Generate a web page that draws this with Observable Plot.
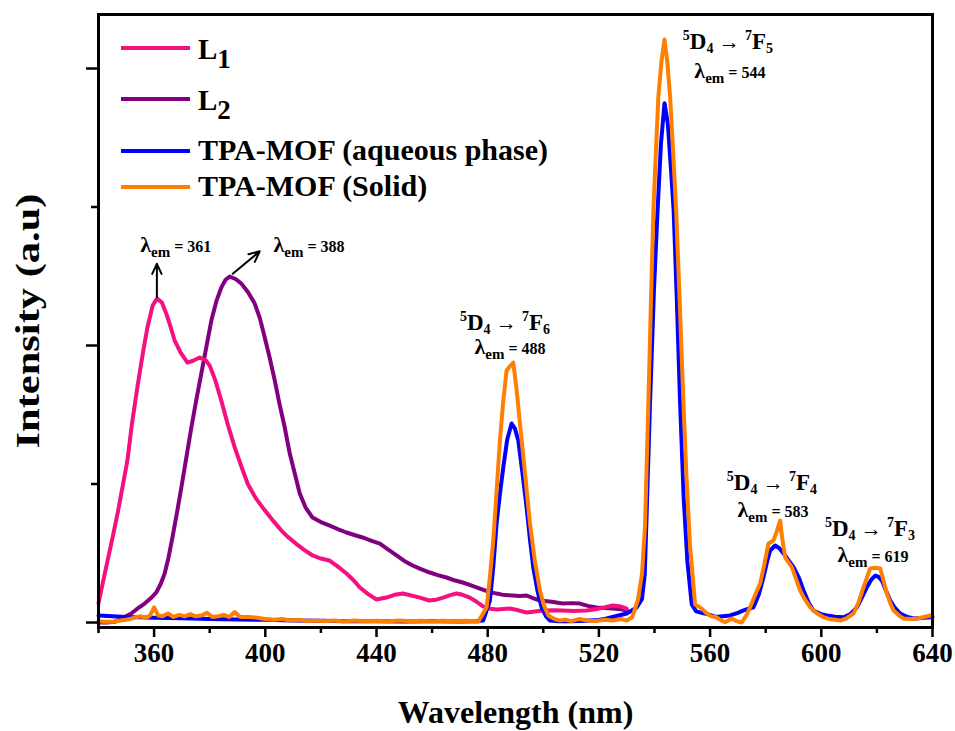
<!DOCTYPE html>
<html><head><meta charset="utf-8">
<script src="https://cdn.jsdelivr.net/npm/d3@7"></script>
<script src="https://cdn.jsdelivr.net/npm/@observablehq/plot@0.6"></script>
<style>body{margin:0;background:#fff}#chart{width:955px;height:731px}</style>
</head><body><div id="chart"></div>
<script>
// ---- data (wavelength nm, intensity a.u.) ----
const seriesNames = ["L1", "L2", "TPA-MOF (aqueous phase)", "TPA-MOF (Solid)"];
const seriesColors = ["#f5107f", "#800080", "#0000ff", "#ff8000"];

const L1 = [[340,140],[342,330],[344.6,570],[347,800],[350.4,1170],[352,1430],[354,1700],[356,1950],[357.6,2130],[359.5,2290],[361.1,2340],[362.8,2310],[364.4,2230],[366,2130],[367.4,2036],[369.5,1950],[372,1877],[374,1890],[376.4,1913],[378.5,1895],[380,1855],[382,1750],[384.2,1600],[386.5,1430],[389,1264],[391.5,1120],[393.7,1000],[396.5,900],[399.8,810],[403,730],[405.8,664],[408,620],[411,570],[414,525],[417,484],[420,462],[423,448],[426,405],[429.2,354],[432,300],[434,253],[437,205],[440,166],[443.6,180],[446.5,200],[449.5,209],[452.5,195],[455.6,180],[459,159],[461.5,165],[464,180],[466.5,198],[468.8,209],[471,200],[473.6,180],[476,150],[478.3,116],[481,100],[483.2,94],[485.5,98],[488,101],[491,88],[494,72],[497,80],[500,87],[504,88],[507,87],[511,84],[515.6,87],[520,100],[525,123],[528,115],[530,101]];

const L2 = [[340,0],[343,0],[345.8,5],[348.5,30],[351.8,65],[354,100],[356.6,137],[358.8,175],[360.8,217],[362.4,280],[363.8,354],[365.2,470],[366.6,614],[368.2,790],[369.8,975],[371.6,1190],[373.4,1408],[375.2,1610],[377,1798],[378.8,1990],[380.6,2180],[382.4,2320],[384.2,2420],[385.7,2475],[387.2,2498],[389.3,2480],[391.4,2447],[393.8,2385],[396.2,2303],[398,2200],[399.8,2058],[401.6,1910],[403.4,1747],[405.2,1570],[407,1408],[408.8,1220],[410.6,1076],[412.4,931],[414.5,830],[417,758],[420,725],[423.2,700],[426,675],[429.2,650],[432,632],[435,614],[438,592],[441.2,570],[444,530],[447.2,484],[450,445],[453,412],[456,385],[459.2,361],[462,342],[465.2,325],[468,305],[471,289],[474,268],[477.2,245],[480,225],[483.2,209],[486,198],[489,195],[491.5,192],[494,195],[496.5,175],[498.8,159],[503,150],[507,137],[510,140],[513.2,137],[516,120],[519.2,108],[522,105],[525,101],[528,95],[530,87]];

const aqueous = [[340,50],[345,45],[350,40],[355,38],[360,35],[365,33],[370,30],[380,25],[390,22],[400,20],[410,15],[420,12],[430,10],[440,10],[450,8],[460,10],[470,8],[476,10],[478.4,15],[480.8,159],[482,400],[483.2,715],[484.4,930],[485.6,1119],[487,1320],[488.6,1437],[489.8,1400],[491,1314],[492.5,1080],[494,830],[495.2,600],[496.4,397],[497.9,230],[499.4,108],[501,45],[502.4,14],[505,10],[510,10],[515,12],[520,18],[522.8,29],[526,45],[530,65],[533.6,108],[535.5,170],[536.5,350],[537.2,800],[538.4,1590],[539.8,2400],[541.1,2970],[542.3,3450],[543.6,3750],[544.8,3600],[546,3250],[546.9,2970],[548,2350],[549.2,1590],[550.5,900],[551.8,450],[553.4,130],[555,80],[557,70],[560,55],[562,40],[564.5,45],[567.2,51],[570,70],[572,87],[575.6,110],[577.5,200],[579.2,327],[580.5,440],[581.6,520],[583.4,556],[585,535],[586.4,498],[588,455],[590,400],[592,320],[593.6,231],[595.5,140],[597.2,87],[600,60],[602,51],[605,42],[608,38],[610.5,60],[612.8,110],[614.6,180],[616.4,255],[618,310],[619.4,339],[620.6,330],[621.8,303],[623.3,230],[624.8,159],[626.5,105],[628.4,65],[631,40],[633.2,29],[636,32],[639.2,38],[640,40]];

const solid = [[340,10],[342,5],[345,5],[348,15],[350,20],[352,30],[355,45],[357,35],[358.5,50],[360,110],[361.5,50],[363,45],[365,65],[367,40],[369,55],[371,45],[373,60],[375,45],[377,50],[379,70],[381,40],[383,45],[385,55],[387,40],[389,75],[391,40],[394,40],[397,35],[400,25],[403,20],[406,25],[409,15],[412,20],[415,10],[418,15],[421,10],[425,15],[428,8],[432,15],[436,10],[440,12],[444,8],[448,15],[452,10],[456,12],[460,8],[464,12],[468,10],[472,12],[476.6,5],[479.6,108],[480.8,330],[482,592],[483.2,950],[484.4,1314],[485.6,1600],[486.8,1820],[488,1850],[489.2,1877],[490.4,1680],[491.6,1437],[493.4,1080],[495.2,715],[497,440],[498.8,231],[500.3,120],[501.8,51],[504,25],[506,14],[508,20],[510,10],[513,25],[516,15],[519,10],[522,20],[525,15],[528,25],[530,14],[532,40],[534,159],[535.5,350],[536.6,700],[537.8,1590],[538.7,2300],[539.6,2970],[540.5,3400],[541.4,3800],[542.5,4050],[543.6,4210],[544.6,4050],[545.6,3800],[546.7,3400],[547.8,2970],[549.1,2300],[550.4,1590],[551.5,1050],[552.8,550],[554.6,130],[555.5,120],[557,100],[558.8,65],[560.5,45],[562.4,36],[564,15],[565.4,2],[567.8,29],[569.5,10],[571.4,0],[573,50],[574.4,110],[576,190],[578,282],[579.5,420],[581,570],[582.8,592],[584,660],[585.2,736],[586,600],[587,471],[589.4,400],[591,310],[592.4,231],[594,170],[596,110],[598.5,65],[600.8,38],[603,25],[606.8,14],[609,30],[611.6,65],[613.5,150],[615.2,255],[616.5,330],[617.6,390],[619.4,395],[621.2,390],[622.4,300],[623.6,209],[624.8,140],[626,87],[628,50],[629.6,29],[632,25],[634.4,29],[637,40],[639.2,51],[640,45]];

const xMajorTicks = [360, 400, 440, 480, 520, 560, 600, 640];
const xMinorTicks = [340, 380, 420, 460, 500, 540, 580, 620];
const yMajorTicks = [0, 2000, 4000];
const yMinorTicks = [1000, 3000];

// annotations (anchored in data units)
const peakArrows = [
  {x1: 361, y1: 2350, x2: 361, y2: 2590},
  {x1: 388.3, y1: 2518, x2: 398, y2: 2680}
];
const ligandLabels = [
  {nm: 368, int: 2671, value: "361"},
  {nm: 415.9, int: 2671, value: "388"}
];
const transitionLabels = [
  {nm: 486.4, int: 2110, f: "6", lnm: 488.2, lint: 1935, value: "488"},
  {nm: 566.6, int: 4140, f: "5", lnm: 567.3, lint: 3925, value: "544"},
  {nm: 582.4, int: 952,  f: "4", lnm: 582.8, lint: 760,  value: "583"},
  {nm: 617.7, int: 622,  f: "3", lnm: 618.8, lint: 435,  value: "619"}
];

// ---- build table ----
const drawOrder = [[1, L2], [0, L1], [2, aqueous], [3, solid]];
const rows = [];
for (const [i, arr] of drawOrder) for (const [nm, v] of arr) rows.push({series: seriesNames[i], nm, int: v});

const FONT = "'Liberation Serif', 'Times New Roman', serif";
const blank = () => "";

const plot = Plot.plot({
  width: 955, height: 731,
  marginLeft: 98, marginRight: 23, marginTop: 14, marginBottom: 104,
  style: {fontFamily: FONT, fontWeight: "bold", background: "#fff", color: "#000", overflow: "visible"},
  x: {domain: [340, 640], axis: null},
  y: {domain: [-36, 4390], axis: null},
  color: {domain: seriesNames, range: seriesColors},
  marks: [
    Plot.line(rows, {x: "nm", y: "int", z: "series", stroke: "series", strokeWidth: 4, strokeLinejoin: "round"}),
    Plot.frame({stroke: "#000", strokeWidth: 3}),
    Plot.axisX(xMajorTicks, {tickSize: 10, tickPadding: 5, fontSize: 27, strokeWidth: 2.5, label: null, tickFormat: d => String(d)}),
    Plot.axisX(xMinorTicks, {tickSize: 6, strokeWidth: 2.5, label: null, tickFormat: blank}),
    Plot.axisY(yMajorTicks, {tickSize: 12, strokeWidth: 2.5, label: null, tickFormat: blank}),
    Plot.axisY(yMinorTicks, {tickSize: 7, strokeWidth: 2.5, label: null, tickFormat: blank}),
    Plot.text(["Wavelength (nm)"], {text: d => d, frameAnchor: "bottom", dy: 95, fontSize: 32}),
    Plot.text(["Intensity (a.u)"], {text: d => d, frameAnchor: "left", textAnchor: "middle", rotate: -90, dx: -70, fontSize: 34, className: "ytitle"}),
    Plot.arrow(peakArrows, {x1: "x1", y1: "y1", x2: "x2", y2: "y2", stroke: "#000", strokeWidth: 2, headLength: 9, headAngle: 50})
  ]
});
document.getElementById("chart").appendChild(plot);

// stretch the y title along its length like the reference
d3.select(plot).selectAll(".ytitle text").attr("textLength", 255).attr("lengthAdjust", "spacingAndGlyphs");

// ---- rich-text annotations placed through Plot's scales ----
const sx = plot.scale("x"), sy = plot.scale("y");
const svg = d3.select(plot);
const ann = svg.append("g").attr("font-family", FONT).attr("font-weight", "bold").attr("fill", "#000");

function rich(g, x, y, parts, anchor = "middle") {
  const t = g.append("text").attr("x", x).attr("y", y).attr("text-anchor", anchor);
  let cur = 0;
  for (const p of parts) {
    t.append("tspan").attr("font-size", p.s).attr("dy", (p.o || 0) - cur).text(p.t);
    cur = p.o || 0;
  }
  return t;
}
const lambdaParts = v => [{t: "λ", s: 22, o: 0}, {t: "em", s: 15, o: 5}, {t: " = " + v, s: 16, o: 0}];
const transParts = f => [{t: "5", s: 14, o: -9}, {t: "D", s: 23, o: 0}, {t: "4", s: 14, o: 4}, {t: " \u2192 ", s: 21, o: 0}, {t: "7", s: 14, o: -9}, {t: "F", s: 23, o: 0}, {t: f, s: 14, o: 4}];

for (const d of ligandLabels) rich(ann, sx.apply(d.nm), sy.apply(d.int), lambdaParts(d.value));
for (const d of transitionLabels) {
  rich(ann, sx.apply(d.nm), sy.apply(d.int), transParts(d.f));
  rich(ann, sx.apply(d.lnm), sy.apply(d.lint), lambdaParts(d.value));
}

// ---- legend (inside plot, top-left) ----
const legendItems = [
  {main: "L", sub: "1", color: seriesColors[0]},
  {main: "L", sub: "2", color: seriesColors[1]},
  {main: "TPA-MOF (aqueous phase)", sub: "", color: seriesColors[2]},
  {main: "TPA-MOF (Solid)", sub: "", color: seriesColors[3]}
];
const legendRowY = [48, 99, 151, 187];
const lg = svg.append("g").attr("font-family", FONT).attr("font-weight", "bold");
legendItems.forEach((it, i) => {
  const y = legendRowY[i];
  lg.append("line").attr("x1", 121).attr("x2", 190).attr("y1", y).attr("y2", y)
    .attr("stroke", it.color).attr("stroke-width", 4);
  const parts = [{t: it.main, s: it.sub ? 29 : 30, o: 0}];
  if (it.sub) parts.push({t: it.sub, s: 27, o: 9});
  rich(lg, 198, y + (it.sub ? 11 : 9), parts, "start");
});
</script>
</body></html>
